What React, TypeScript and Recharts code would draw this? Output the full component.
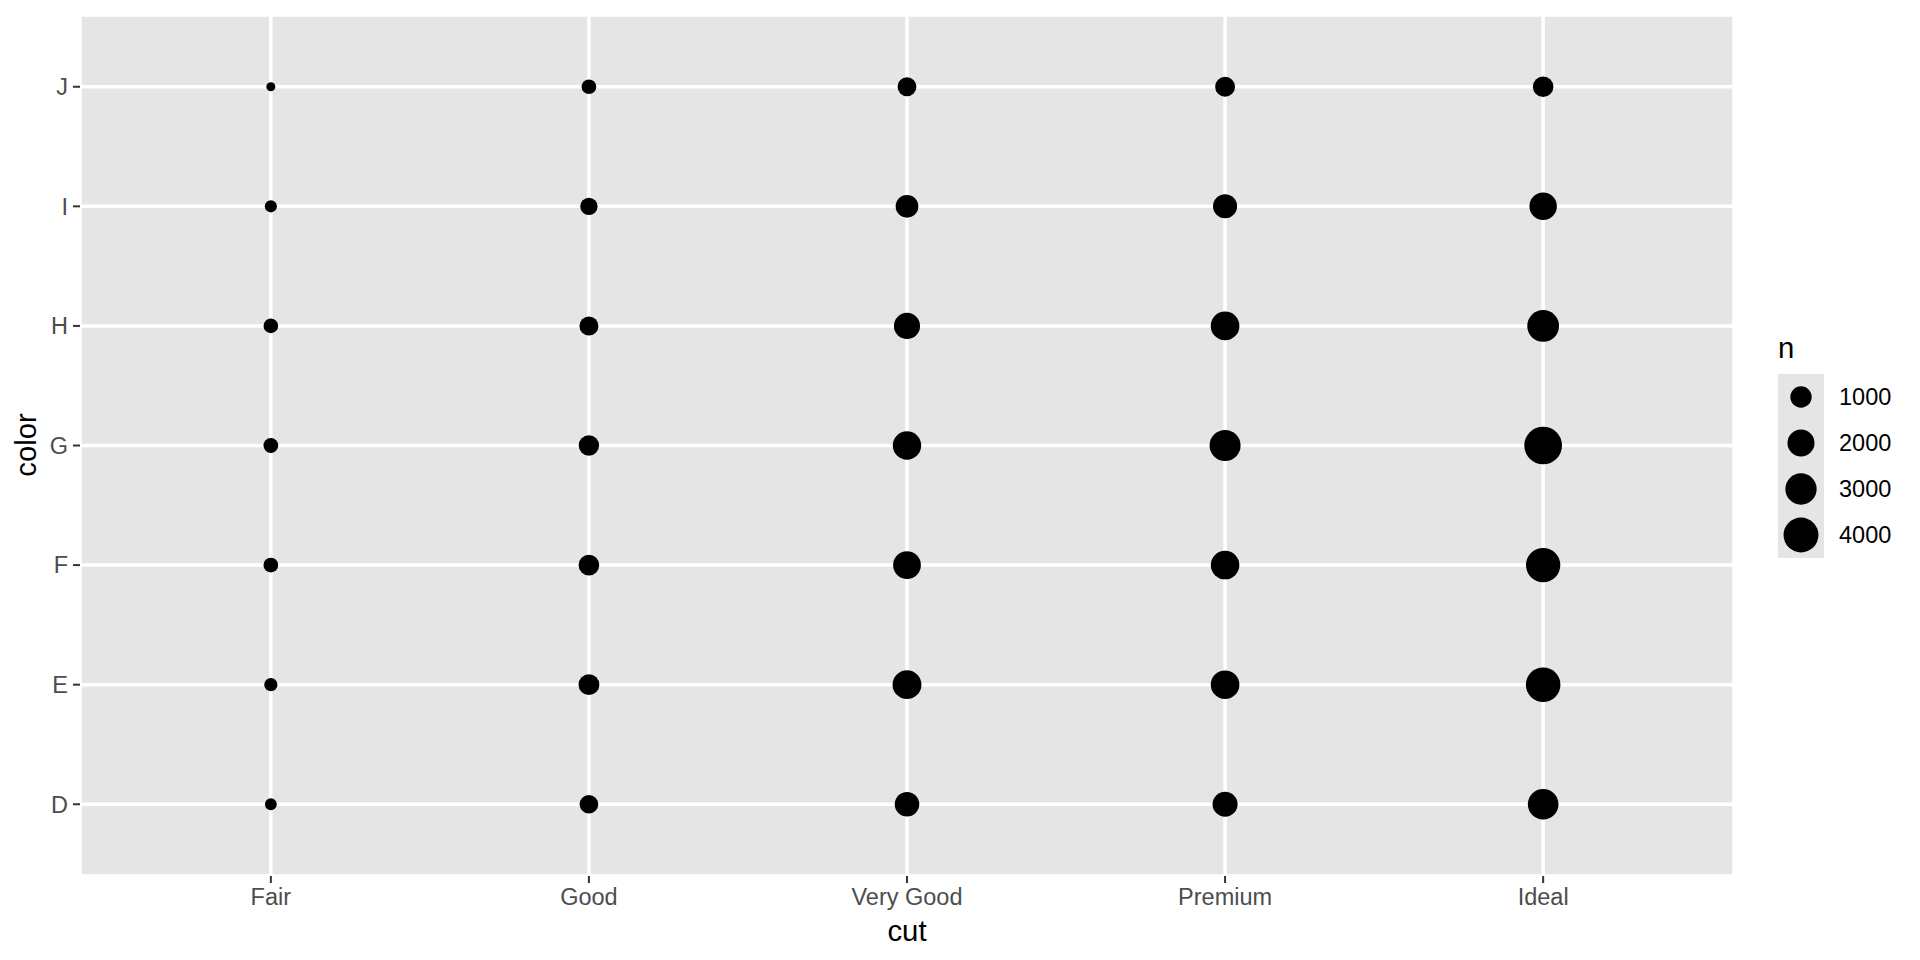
import React from 'react';
import { ScatterChart, Scatter, XAxis, YAxis, CartesianGrid, Customized } from 'recharts';

const cuts = ['Fair', 'Good', 'Very Good', 'Premium', 'Ideal'];
const colorLevels = ['D', 'E', 'F', 'G', 'H', 'I', 'J'];
// counts per cut, ordered D..J
const fairCounts = [163, 224, 312, 314, 303, 175, 119];
const goodCounts = [662, 933, 909, 871, 702, 522, 307];
const veryGoodCounts = [1513, 2400, 2164, 2299, 1824, 1204, 678];
const premiumCounts = [1603, 2337, 2331, 2924, 2360, 1428, 808];
const idealCounts = [2834, 3903, 3826, 4884, 3115, 2093, 896];
const countsByCut = [fairCounts, goodCounts, veryGoodCounts, premiumCounts, idealCounts];
const legendValues = [1000, 2000, 3000, 4000];
const xTicks = [0, 1, 2, 3, 4];
const yTicks = [0, 1, 2, 3, 4, 5, 6];

const data = countsByCut.flatMap((counts, ci) =>
  counts.map((n, gi) => ({ x: ci, y: gi, n }))
);
const allN = data.map((d) => d.n);
const nMin = Math.min(...allN);
const nMax = Math.max(...allN);

// ggplot2 scale_size: area palette range 1..6
const radiusOf = (n: number) => {
  const t = Math.max(0, (n - nMin) / (nMax - nMin));
  const size = 1 + 5 * Math.sqrt(t);
  return (3.26 + 5.74 * size) / 2;
};

const FONT = '"Liberation Sans", Arial, Helvetica, sans-serif';
const PANEL = '#E5E5E5';

const Dot = (props: any) => {
  const { cx, cy, payload } = props;
  if (cx == null || cy == null) return null;
  return <circle cx={cx} cy={cy} r={radiusOf(payload.n)} fill="#000000" />;
};

const Extras = () => (
  <g fontFamily={FONT}>
    <text x={907} y={941} textAnchor="middle" fontSize={29.3} fill="#000">cut</text>
    <text
      x={0}
      y={0}
      transform="translate(36,445) rotate(-90)"
      textAnchor="middle"
      fontSize={29.3}
      fill="#000"
    >
      color
    </text>
    <text x={1778} y={358} fontSize={29.3} fill="#000">n</text>
    {legendValues.map((v, i) => (
      <g key={v}>
        <rect x={1778} y={374 + 46 * i} width={46} height={46} fill={PANEL} />
        <circle cx={1801} cy={397 + 46 * i} r={radiusOf(v)} fill="#000" />
        <text x={1839} y={397 + 46 * i} dominantBaseline="central" fontSize={23.5} fill="#000">
          {v}
        </text>
      </g>
    ))}
  </g>
);

export default function App() {
  return (
    <div style={{ position: 'absolute', left: 0, top: 0, width: 1920, height: 960, background: '#fff' }}>
      <ScatterChart width={1920} height={960} margin={{ top: 15, right: 186, bottom: 0, left: 0 }}>
        <CartesianGrid fill={PANEL} stroke="#FFFFFF" strokeWidth={3.5} />
        <XAxis
          type="number"
          dataKey="x"
          domain={[-0.6, 4.6]}
          ticks={xTicks}
          tickFormatter={(v: number) => cuts[v]}
          height={84}
          axisLine={false}
          tickLine={{ stroke: '#333333', strokeWidth: 2 }}
          tickSize={7}
          tickMargin={5}
          tick={{ fill: '#4D4D4D', fontSize: 23.5, fontFamily: FONT }}
          interval={0}
        />
        <YAxis
          type="number"
          dataKey="y"
          domain={[-0.6, 6.6]}
          ticks={yTicks}
          tickFormatter={(v: number) => colorLevels[v]}
          width={80}
          axisLine={false}
          tickLine={{ stroke: '#333333', strokeWidth: 2 }}
          tickSize={7}
          tickMargin={5}
          tick={{ fill: '#4D4D4D', fontSize: 23.5, fontFamily: FONT }}
          interval={0}
        />
        <Scatter data={data} shape={Dot} isAnimationActive={false} />
        <Customized component={Extras} />
      </ScatterChart>
    </div>
  );
}
